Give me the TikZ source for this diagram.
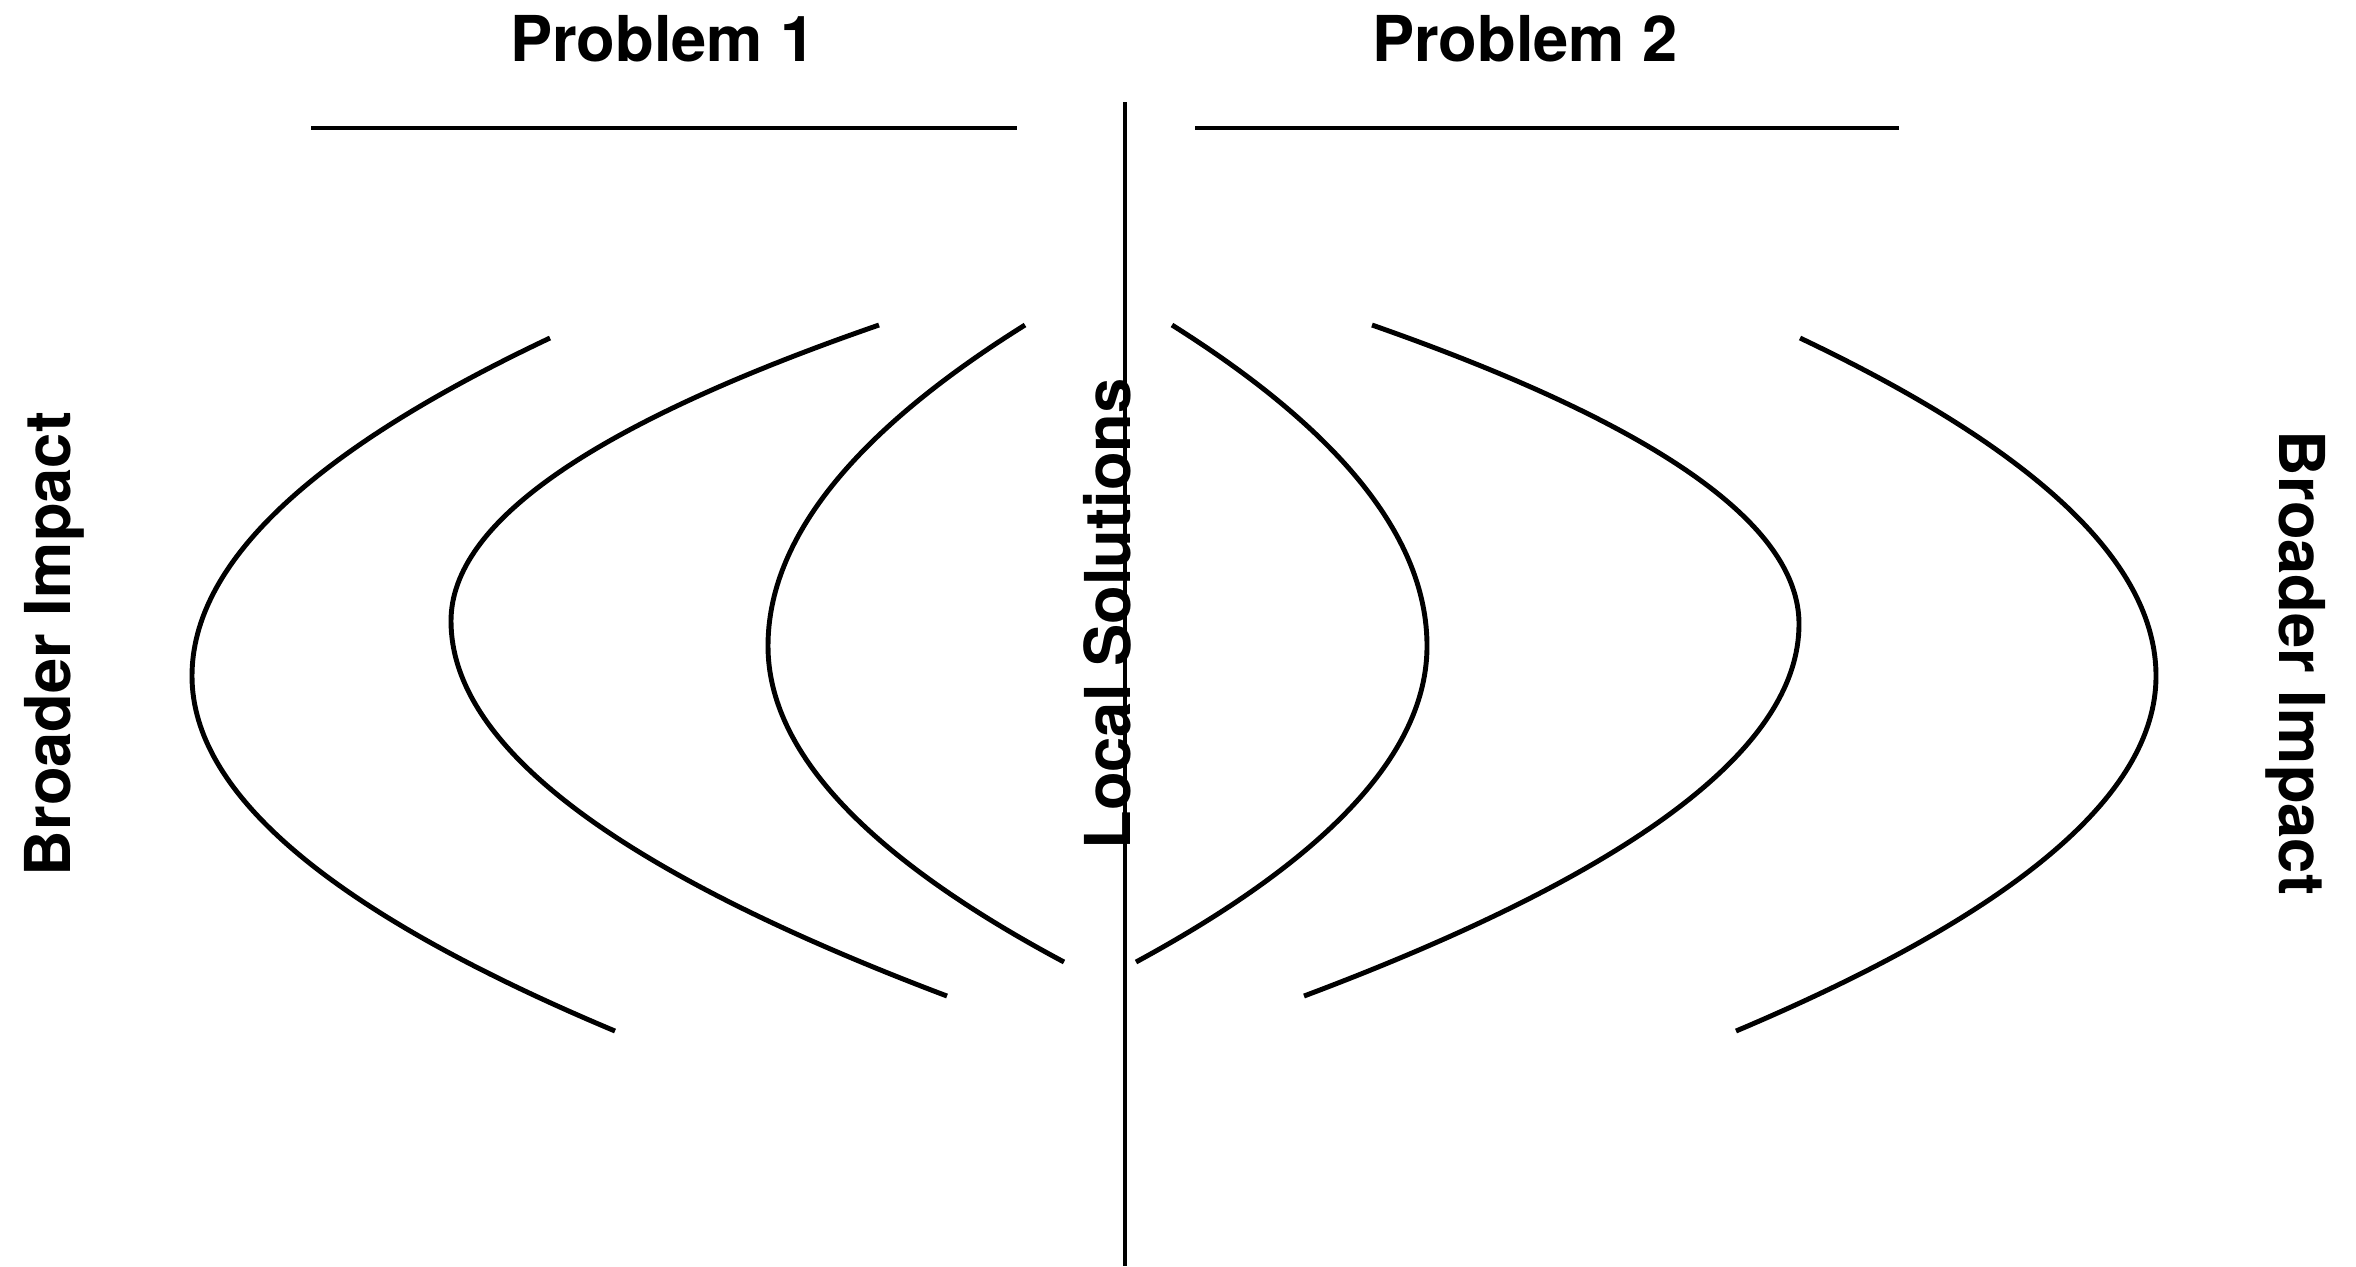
\documentclass[tikz,border=0pt]{standalone}
\usepackage{fontspec}
\setmainfont{TeX Gyre Heros}
\usepackage{tikz}

\begin{document}
\begin{tikzpicture}[
        heading/.style={font=\bfseries\fontsize{18}{20}\selectfont, inner sep=0pt},
        arc/.style={line width=1.4pt},
        rule/.style={line width=1.2pt}
        ]
        \useasboundingbox (0,0) rectangle (23.56,-12.66);
        \node[heading, anchor=base]             (prob1)   at (6.63,-0.61)   {Problem 1};
        \node[heading, anchor=base]             (prob2)   at (15.25,-0.61)  {Problem 2};
        \node[heading, anchor=base, rotate=90]  (impactL) at (0.70,-6.44)   {Broader Impact};
        \node[heading, anchor=base, rotate=-90] (impactR) at (22.79,-6.63)  {Broader Impact};
        \node[heading, anchor=base, rotate=90]  (local)   at (11.30,-6.14)  {Local Solutions};
        % answer lines and divider
        \draw[rule] (3.11,-1.28) -- (10.17,-1.28);
        \draw[rule] (11.95,-1.28) -- (18.99,-1.28);
        \draw[rule] (11.25,-1.02) -- (11.25,-12.66);
        % left arcs
        \draw[arc] (5.50,-3.38) .. controls (3.113,-4.507) and (1.92,-5.633) .. (1.92,-6.76)
                   .. controls (1.92,-7.943) and (3.33,-9.127) .. (6.15,-10.31);
        \draw[arc] (8.79,-3.25) .. controls (5.937,-4.237) and (4.51,-5.223) .. (4.51,-6.21)
                   .. controls (4.51,-7.46) and (6.163,-8.71) .. (9.47,-9.96);
        \draw[arc] (10.25,-3.25) .. controls (8.537,-4.32) and (7.68,-5.39) .. (7.68,-6.46)
                   .. controls (7.68,-7.513) and (8.667,-8.567) .. (10.64,-9.62);
        % right arcs
        \draw[arc] (11.72,-3.25) .. controls (13.42,-4.32) and (14.27,-5.39) .. (14.27,-6.46)
                   .. controls (14.27,-7.513) and (13.30,-8.567) .. (11.36,-9.62);
        \draw[arc] (13.72,-3.25) .. controls (16.567,-4.247) and (17.99,-5.243) .. (17.99,-6.24)
                   .. controls (17.99,-7.48) and (16.34,-8.72) .. (13.04,-9.96);
        \draw[arc] (18.00,-3.38) .. controls (20.373,-4.507) and (21.56,-5.633) .. (21.56,-6.76)
                   .. controls (21.56,-7.943) and (20.16,-9.127) .. (17.36,-10.31);
\end{tikzpicture}
\end{document}
